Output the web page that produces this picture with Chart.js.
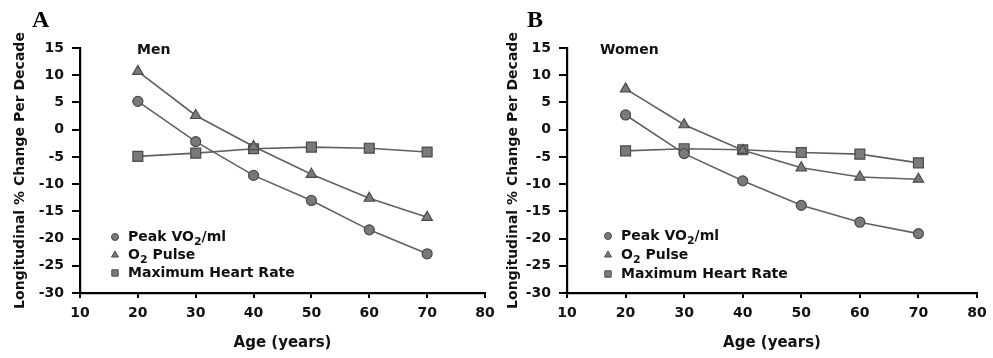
<!DOCTYPE html>
<html>
<head>
<meta charset="utf-8">
<script src="https://cdn.jsdelivr.net/npm/chart.js@4.4.1/dist/chart.umd.min.js"></script>
<style>
  html, body { margin: 0; padding: 0; background: #fff; }
  #wrap { position: relative; width: 993px; height: 358px; overflow: hidden; }
  .pane { position: absolute; top: 0; height: 358px; }
</style>
</head>
<body>
<div id="wrap">
  <div class="pane" style="left:0;width:495px"><canvas id="cA" width="495" height="358"></canvas></div>
  <div class="pane" style="left:495px;width:498px"><canvas id="cB" width="498" height="358"></canvas></div>
</div>
<script>
// ---- data ----
const ages = [20, 30, 40, 50, 60, 70];
const xTicks = [10, 20, 30, 40, 50, 60, 70, 80];
const yTicks = [15, 10, 5, 0, -5, -10, -15, -20, -25, -30];

const menPeakVO2 = [5.2, -2.2, -8.4, -13.0, -18.4, -22.8];
const menO2Pulse = [10.7, 2.6, -3.1, -8.2, -12.6, -16.1];
const menMaxHR   = [-4.9, -4.3, -3.5, -3.2, -3.4, -4.1];

const womenPeakVO2 = [2.7, -4.4, -9.4, -13.9, -17.0, -19.1];
const womenO2Pulse = [7.5, 0.9, -3.8, -7.0, -8.7, -9.1];
const womenMaxHR   = [-3.9, -3.5, -3.7, -4.2, -4.5, -6.1];

const seriesNames = ['Peak VO2/ml', 'O2 Pulse', 'Maximum Heart Rate'];
const panelLetters = ['A', 'B'];
const panelTitles = ['Men', 'Women'];

// ---- styles ----
const FONT = "'DejaVu Sans', Arial, sans-serif";
const lineCol = '#606060';
const markFill = '#7a7a7a';
const markEdge = '#4a4a4a';
const styles = [
  { pointStyle: 'circle', radius: 5 },
  { pointStyle: 'triangle', radius: 6 },
  { pointStyle: 'rect', radius: 7 }
];

function makeDatasets(arrs) {
  return arrs.map((vals, i) => ({
    label: seriesNames[i],
    data: ages.map((a, j) => ({ x: a, y: vals[j] })),
    borderColor: lineCol,
    borderWidth: 1.6,
    backgroundColor: markFill,
    pointBackgroundColor: markFill,
    pointBorderColor: markEdge,
    pointBorderWidth: 1.2,
    pointStyle: styles[i].pointStyle,
    pointRadius: styles[i].radius,
    tension: 0,
    fill: false
  }));
}

function drawSubText(ctx, parts, x, y) {
  let cx = x;
  parts.forEach(([t, sub]) => {
    ctx.font = sub ? "bold 11px " + FONT : "bold 14px " + FONT;
    ctx.fillText(t, cx, sub ? y + 5 : y);
    cx += ctx.measureText(t).width;
  });
}

const decorPlugin = {
  id: 'decor',
  afterDraw(chart, args, opts) {
    const ctx = chart.ctx;
    ctx.save();
    ctx.fillStyle = '#000';
    ctx.font = "bold 24px 'Liberation Serif', 'Times New Roman', serif";
    ctx.textBaseline = 'alphabetic';
    ctx.textAlign = 'left';
    ctx.fillText(opts.letter, opts.letterX, 27);
    ctx.font = "bold 14px " + FONT;
    ctx.textBaseline = 'middle';
    ctx.fillStyle = '#111';
    ctx.fillText(opts.title, opts.titleX, 50);
    const mx = opts.legX, tx = opts.legX + 13;
    const rows = opts.legRows;
    ctx.textBaseline = 'middle';
    ctx.fillStyle = '#111';
    drawSubText(ctx, [['Peak VO', false], ['2', true], ['/ml', false]], tx, rows[0]);
    drawSubText(ctx, [['O', false], ['2', true], [' Pulse', false]], tx, rows[1]);
    drawSubText(ctx, [['Maximum Heart Rate', false]], tx, rows[2]);
    const legStyles = ['circle', 'triangle', 'rect'];
    const legR = [3.5, 4, 4.5];
    legStyles.forEach((s, i) => {
      ctx.fillStyle = markFill;
      ctx.strokeStyle = markEdge;
      ctx.lineWidth = 1;
      Chart.helpers.drawPoint(ctx, { pointStyle: s, radius: legR[i], borderWidth: 1 }, mx, rows[i]);
    });
    ctx.restore();
  }
};

function makeChart(id, arrs, idx, cfg) {
  return new Chart(document.getElementById(id), {
    type: 'line',
    data: { datasets: makeDatasets(arrs) },
    options: {
      responsive: false,
      animation: false,
      layout: { padding: { top: 48, right: cfg.padRight, bottom: 0, left: 0 } },
      plugins: {
        legend: { display: false },
        tooltip: { enabled: false },
        decor: {
          letter: panelLetters[idx], letterX: 32,
          title: panelTitles[idx], titleX: cfg.titleX,
          legX: cfg.legX, legRows: cfg.legRows
        }
      },
      scales: {
        x: {
          type: 'linear', min: 10, max: 80,
          afterBuildTicks: s => { s.ticks = xTicks.map(v => ({ value: v })); },
          afterFit: s => { s.height = 65; s.paddingLeft = 0; s.paddingRight = 0; },
          grid: { drawOnChartArea: false, drawTicks: true, tickLength: 5, color: '#000', lineWidth: 2 },
          border: { color: '#000', width: 2.2 },
          ticks: { color: '#111', font: { family: FONT, size: 14, weight: 'bold' }, padding: 7, maxRotation: 0 },
          title: { display: true, text: 'Age (years)', color: '#111', font: { family: FONT, size: 15, weight: 'bold' }, padding: { top: 3, bottom: 6 } }
        },
        y: {
          type: 'linear', min: -30, max: 15,
          afterBuildTicks: s => { s.ticks = yTicks.map(v => ({ value: v })); },
          afterFit: s => { s.width = cfg.yWidth; s.paddingTop = 0; s.paddingBottom = 0; },
          grid: { drawOnChartArea: false, drawTicks: true, tickLength: 8, color: '#000', lineWidth: 2 },
          border: { color: '#000', width: 2.2 },
          ticks: { color: '#111', font: { family: FONT, size: 14, weight: 'bold' }, padding: 8 },
          title: { display: true, text: 'Longitudinal % Change Per Decade', color: '#111', font: { family: FONT, size: 14, weight: 'bold' }, padding: { top: cfg.yTitlePad, bottom: 0 } }
        }
      }
    },
    plugins: [decorPlugin]
  });
}

makeChart('cA', [menPeakVO2, menO2Pulse, menMaxHR], 0,
  { padRight: 10, yWidth: 80, yTitlePad: 12, titleX: 137, legX: 115, legRows: [237, 255, 273] });
makeChart('cB', [womenPeakVO2, womenO2Pulse, womenMaxHR], 1,
  { padRight: 16, yWidth: 72, yTitlePad: 10, titleX: 105, legX: 113, legRows: [236, 255, 274] });
</script>
</body>
</html>
